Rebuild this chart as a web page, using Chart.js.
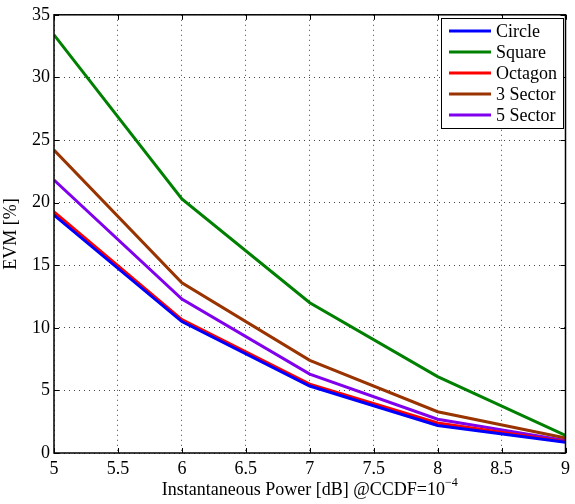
<!DOCTYPE html>
<html>
<head>
<meta charset="utf-8">
<script src="https://cdn.jsdelivr.net/npm/chart.js@4"></script>
<style>
  html, body { margin: 0; padding: 0; background: #fff; }
  #wrap { width: 575px; height: 504px; }
</style>
</head>
<body>
<div id="wrap"><canvas id="evm"></canvas></div>
<script>
const powerDb = [5, 6, 7, 8, 9];
const circle = [19.0, 10.5, 5.35, 2.2, 0.85];
const square = [33.4, 20.3, 12.0, 6.1, 1.4];
const octagon = [19.25, 10.65, 5.5, 2.4, 0.9];
const sector3 = [24.2, 13.6, 7.4, 3.3, 1.2];
const sector5 = [21.8, 12.3, 6.3, 2.7, 1.0];
const seriesNames = ["Circle", "Square", "Octagon", "3 Sector", "5 Sector"];
const seriesColors = ["#0000ff", "#008000", "#ff0000", "#993300", "#8000ee"];

const FONT = "'Liberation Serif', 'DejaVu Serif', serif";

function toPoints(arr) {
  return powerDb.map((x, i) => ({ x: x, y: arr[i] }));
}

// frame, inward ticks, boxed legend, x title with superscript
const decor = {
  id: "decor",
  afterDraw(chart) {
    const ctx = chart.ctx;
    const a = chart.chartArea;
    const xs = chart.scales.x;
    const ys = chart.scales.y;
    ctx.save();
    ctx.strokeStyle = "#000";
    ctx.lineWidth = 1;
    ctx.beginPath();
    xs.ticks.forEach(t => {
      const px = Math.round(xs.getPixelForValue(t.value)) + 0.5;
      ctx.moveTo(px, a.bottom); ctx.lineTo(px, a.bottom - 5);
      ctx.moveTo(px, a.top); ctx.lineTo(px, a.top + 5);
    });
    ys.ticks.forEach(t => {
      const py = Math.round(ys.getPixelForValue(t.value)) + 0.5;
      ctx.moveTo(a.left, py); ctx.lineTo(a.left + 5, py);
      ctx.moveTo(a.right, py); ctx.lineTo(a.right - 5, py);
    });
    ctx.stroke();
    ctx.lineWidth = 1.5;
    ctx.strokeRect(a.left, a.top, a.right - a.left, a.bottom - a.top);

    // legend
    const lx = 441, ly = 18, lw = 122, lh = 110;
    ctx.fillStyle = "#fff";
    ctx.fillRect(lx, ly, lw, lh);
    ctx.lineWidth = 1;
    ctx.strokeRect(lx + 0.5, ly + 0.5, lw, lh);
    ctx.font = "18px " + FONT;
    ctx.textBaseline = "middle";
    chart.data.datasets.forEach((ds, i) => {
      const y = ly + 13 + i * 21;
      ctx.strokeStyle = ds.borderColor;
      ctx.lineWidth = 3;
      ctx.beginPath();
      ctx.moveTo(lx + 8, y); ctx.lineTo(lx + 50, y);
      ctx.stroke();
      ctx.fillStyle = "#000";
      ctx.fillText(ds.label, lx + 55, y + 1);
    });

    // x axis title
    ctx.textBaseline = "alphabetic";
    const main = "Instantaneous Power [dB] @CCDF=10";
    const sup = "\u22124";
    ctx.font = "18px " + FONT;
    const w1 = ctx.measureText(main).width;
    ctx.font = "12px " + FONT;
    const w2 = ctx.measureText(sup).width;
    const cx = (a.left + a.right) / 2;
    const start = cx - (w1 + w2) / 2;
    ctx.font = "18px " + FONT;
    ctx.fillStyle = "#000";
    ctx.fillText(main, start, 495);
    ctx.font = "12px " + FONT;
    ctx.fillText(sup, start + w1, 486);
    ctx.restore();
  }
};

new Chart(document.getElementById("evm"), {
  type: "line",
  data: {
    datasets: [circle, square, octagon, sector3, sector5].map((arr, i) => ({
      label: seriesNames[i],
      data: toPoints(arr),
      borderColor: seriesColors[i],
      backgroundColor: seriesColors[i],
      borderWidth: 3,
      pointRadius: 0,
      tension: 0,
      fill: false
    }))
  },
  options: {
    responsive: true,
    maintainAspectRatio: false,
    animation: false,
    layout: { padding: { top: 11, right: 4, left: 0, bottom: 0 } },
    plugins: {
      legend: { display: false },
      tooltip: { enabled: false }
    },
    scales: {
      x: {
        type: "linear",
        min: 5,
        max: 9,
        ticks: {
          stepSize: 0.5,
          color: "#000",
          font: { family: FONT, size: 18 },
          padding: 5,
          maxRotation: 0,
          callback: v => String(v)
        },
        grid: { color: "#444", tickLength: 0, drawTicks: false },
        border: { display: false, dash: [1, 4] },
        afterFit(s) { s.height = 51; }
      },
      y: {
        min: 0,
        max: 35,
        ticks: {
          stepSize: 5,
          color: "#000",
          font: { family: FONT, size: 18 },
          padding: 4
        },
        grid: { color: "#444", tickLength: 0, drawTicks: false },
        border: { display: false, dash: [1, 4] },
        title: {
          display: true,
          text: "EVM [%]",
          color: "#000",
          font: { family: FONT, size: 18 },
          padding: { top: 0, bottom: 0 }
        },
        afterFit(s) { s.width = 54; }
      }
    }
  },
  plugins: [decor]
});
</script>
</body>
</html>
